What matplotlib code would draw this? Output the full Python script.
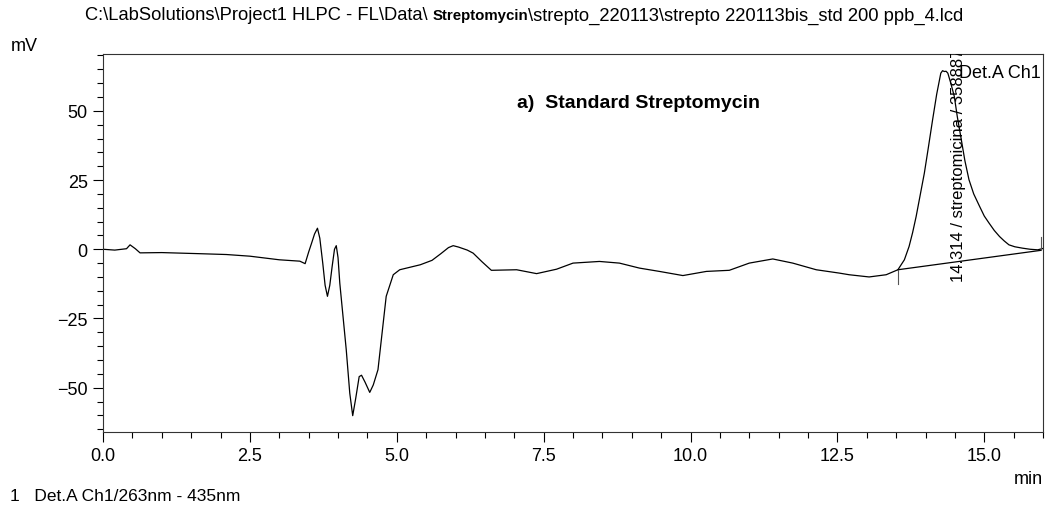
import matplotlib.pyplot as plt
from matplotlib.ticker import MultipleLocator

plt.rcParams['font.family'] = ['Liberation Sans', 'DejaVu Sans']

# Chromatogram trace (time in min, signal in mV)
times = [0.00, 0.20, 0.40, 0.46, 0.55, 0.63, 1.00, 1.65, 2.10, 2.50, 3.00,
         3.35, 3.44, 3.50, 3.55, 3.60, 3.65, 3.69, 3.74, 3.78, 3.82, 3.86,
         3.90, 3.94, 3.97, 4.00, 4.03, 4.14, 4.20, 4.25, 4.30, 4.36, 4.40,
         4.46, 4.54, 4.60, 4.68, 4.82, 4.94, 5.05, 5.40, 5.60, 5.75, 5.88,
         5.96, 6.05, 6.20, 6.30, 6.45, 6.61, 7.04, 7.38, 7.72, 8.00, 8.45,
         8.79, 9.13, 9.47, 9.87, 10.27, 10.66, 11.00, 11.40, 11.74, 12.14,
         12.53, 12.70, 13.04, 13.33, 13.53, 13.64, 13.72, 13.78, 13.84,
         13.98, 14.05, 14.12, 14.19, 14.26, 14.29, 14.32, 14.35, 14.38,
         14.43, 14.49, 14.54, 14.60, 14.67, 14.74, 14.82, 14.92, 15.00,
         15.08, 15.17, 15.26, 15.34, 15.42, 15.52, 15.65, 15.78, 15.91, 16.00]
signal = [0.0, -0.3, 0.2, 1.6, 0.2, -1.3, -1.2, -1.6, -1.9, -2.5, -3.8,
          -4.3, -5.2, -1.0, 2.2, 5.5, 7.6, 4.0, -5.0, -13.0, -17.0, -13.0,
          -6.2, 0.0, 1.3, -3.0, -12.2, -36.3, -52.0, -60.1, -54.0, -46.0, -45.5,
          -48.0, -51.7, -49.0, -43.5, -17.0, -9.2, -7.4, -5.6, -4.0, -1.6, 0.6,
          1.3, 0.8, -0.3, -1.4, -4.5, -7.6, -7.4, -8.8, -7.2, -5.0, -4.4,
          -5.0, -6.8, -8.0, -9.5, -8.0, -7.6, -5.0, -3.5, -5.0, -7.4,
          -8.6, -9.2, -10.0, -9.2, -7.4, -3.8, 1.0, 6.0, 11.8,
          27.5, 37.0, 46.7, 56.0, 63.6, 64.5, 64.2, 64.3, 63.6,
          60.0, 55.2, 48.0, 40.7, 32.0, 25.1, 20.0, 15.5, 12.0,
          9.5, 6.8, 4.6, 3.0, 1.6, 0.9, 0.4, 0.0, -0.2, 0.3]

# Integration baseline of the streptomycin peak
base_t = [13.53, 15.96]
base_v = [-7.4, -0.4]

peak_label = "14.314 / streptomicina / 3588873"
peak_pos = 14.56

title_parts = [r"C:\LabSolutions\Project1 HLPC - FL\Data\ ", "Streptomycin",
               r"\strepto_220113\strepto 220113bis_std 200 ppb_4.lcd"]

fig = plt.figure(figsize=(10.47, 5.10), dpi=100)
ax = fig.add_axes([0.0984, 0.151, 0.8978, 0.741])

ax.plot(times, signal, color='black', lw=0.9)
ax.plot(base_t, base_v, color='black', lw=0.9)
# baseline start / end markers
ax.plot([base_t[0], base_t[0]], [base_v[0] - 5, base_v[0]], color='#555555', lw=0.8)
ax.plot([base_t[1], base_t[1]], [base_v[1], base_v[1] + 5], color='#555555', lw=0.8)

ax.text(peak_pos, -11.5, peak_label, rotation=90, ha='center', va='bottom',
        fontsize=12, clip_on=True)
ax.text(0.998, 0.975, "Det.A Ch1", transform=ax.transAxes, ha='right', va='top',
        fontsize=13)
ax.text(0.44, 0.86, "a)  Standard Streptomycin", transform=ax.transAxes,
        fontsize=14, fontweight='bold')

ax.set_xlim(0, 16)
ax.set_ylim(-66, 70.5)
ax.xaxis.set_major_locator(MultipleLocator(2.5))
ax.xaxis.set_minor_locator(MultipleLocator(0.5))
ax.yaxis.set_major_locator(MultipleLocator(25))
ax.yaxis.set_minor_locator(MultipleLocator(5))
ax.xaxis.set_major_formatter(plt.FormatStrFormatter('%.1f'))
ax.tick_params(which='major', length=7, width=0.8, labelsize=13, pad=4)
ax.tick_params(which='minor', length=4, width=0.8)
for s in ax.spines.values():
    s.set_color('#333333')
    s.set_linewidth(0.8)

fig.text(0.010, 0.900, "mV", fontsize=13)
fig.text(0.968, 0.050, "min", fontsize=13)
fig.text(0.010, 0.018, "1   Det.A Ch1/263nm - 435nm", fontsize=12.5)

# title with the bold middle part, chained left to right
t0 = fig.text(0.081, 0.960, title_parts[0], fontsize=13.2, ha='left', va='baseline')
fig.canvas.draw()
x1 = t0.get_window_extent().x1 / fig.bbox.width
t1 = fig.text(x1, 0.960, title_parts[1], fontsize=10.8, fontweight='bold',
              ha='left', va='baseline')
fig.canvas.draw()
x2 = t1.get_window_extent().x1 / fig.bbox.width
fig.text(x2, 0.960, title_parts[2], fontsize=13.2, ha='left', va='baseline')

fig.savefig("out.png", dpi=100)
